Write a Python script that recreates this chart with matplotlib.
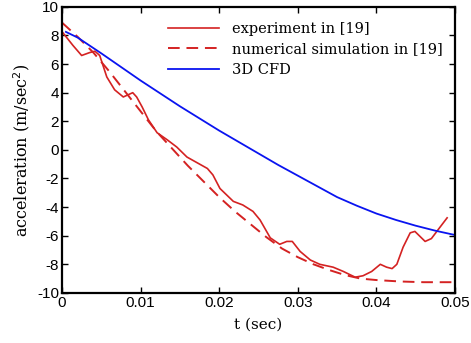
import matplotlib

matplotlib.use("Agg")
import matplotlib.pyplot as plt

plt.rcParams["axes.unicode_minus"] = False

# experiment in [19] (solid red)
exp_t = [0.0001, 0.0014, 0.0025, 0.0035, 0.0042, 0.0048, 0.0057, 0.0067, 0.0078,
         0.0084, 0.0090, 0.0095, 0.0102, 0.0110, 0.0121, 0.0134, 0.0146, 0.0159,
         0.0172, 0.0185, 0.0192, 0.0201, 0.0218, 0.0230, 0.0243, 0.0252, 0.0265,
         0.0277, 0.0286, 0.0293, 0.0303, 0.0316, 0.0328, 0.0345, 0.0358, 0.0373,
         0.0383, 0.0394, 0.0405, 0.0413, 0.0420, 0.0426, 0.0434, 0.0443, 0.0449,
         0.0462, 0.0470, 0.0481, 0.0490]
exp_a = [8.2, 7.3, 6.6, 6.8, 6.9, 6.6, 5.1, 4.2, 3.7,
         3.85, 4.0, 3.7, 3.0, 2.1, 1.2, 0.7, 0.2, -0.5,
         -0.9, -1.3, -1.75, -2.7, -3.6, -3.85, -4.3, -4.9, -6.15,
         -6.6, -6.4, -6.4, -7.1, -7.7, -8.0, -8.2, -8.5, -8.9,
         -8.8, -8.5, -8.0, -8.2, -8.3, -8.0, -6.8, -5.8, -5.7,
         -6.4, -6.2, -5.4, -4.75]

# numerical simulation in [19] (dashed red)
sim_t = [0.000, 0.002, 0.004, 0.006, 0.008, 0.010, 0.012, 0.014, 0.016, 0.018,
         0.020, 0.022, 0.024, 0.026, 0.028, 0.030, 0.032, 0.034, 0.036, 0.038,
         0.040, 0.043, 0.046, 0.050]
sim_a = [8.9, 7.9, 6.8, 5.5, 4.1, 2.7, 1.3, 0.1, -1.1, -2.2,
         -3.3, -4.3, -5.2, -6.1, -6.9, -7.5, -8.0, -8.4, -8.75, -9.0,
         -9.1, -9.2, -9.25, -9.25]

# 3D CFD (blue)
cfd_t = [0.0005, 0.002, 0.005, 0.0075, 0.010, 0.0125, 0.015, 0.0175, 0.020,
         0.0225, 0.025, 0.0275, 0.030, 0.0325, 0.035, 0.0375, 0.040, 0.0425,
         0.045, 0.0475, 0.050]
cfd_a = [8.25, 7.85, 6.75, 5.8, 4.85, 3.95, 3.05, 2.2, 1.35,
         0.55, -0.25, -1.05, -1.8, -2.55, -3.3, -3.9, -4.45, -4.9,
         -5.3, -5.65, -5.95]

RED = "#d42222"
BLUE = "#0a14f0"

fig = plt.figure(figsize=(4.71, 3.43), dpi=100)
ax = fig.add_axes([0.1316, 0.146, 0.8344, 0.834])

ax.plot(exp_t, exp_a, color=RED, lw=1.2, label="experiment in [19]")
ax.plot(sim_t, sim_a, color=RED, lw=1.4, dashes=(6, 3.5),
        label="numerical simulation in [19]")
ax.plot(cfd_t, cfd_a, color=BLUE, lw=1.3, label="3D CFD")

ax.set_xlim(0, 0.05)
ax.set_ylim(-10, 10)
ax.set_xticks([0, 0.01, 0.02, 0.03, 0.04, 0.05])
ax.set_xticklabels(["0", "0.01", "0.02", "0.03", "0.04", "0.05"])
ax.set_yticks(range(-10, 11, 2))
ax.tick_params(direction="in", top=True, right=True, length=4, width=1,
               labelsize=11, pad=2)
for lab in ax.get_xticklabels() + ax.get_yticklabels():
    lab.set_fontfamily("Liberation Sans")
for sp in ax.spines.values():
    sp.set_linewidth(1.6)

ax.set_xlabel("t (sec)", family="DejaVu Serif", fontsize=11, labelpad=6)
ax.set_ylabel("acceleration (m/sec$^2$)", family="DejaVu Serif", fontsize=11.5,
              labelpad=4)

ax.legend(loc="upper left", bbox_to_anchor=(0.27, 0.948), frameon=False,
          prop={"family": "DejaVu Serif", "size": 10.5}, handlelength=3.5,
          labelspacing=0.45, handletextpad=0.9, borderaxespad=0, borderpad=0)

fig.savefig("out.png", dpi=100)
